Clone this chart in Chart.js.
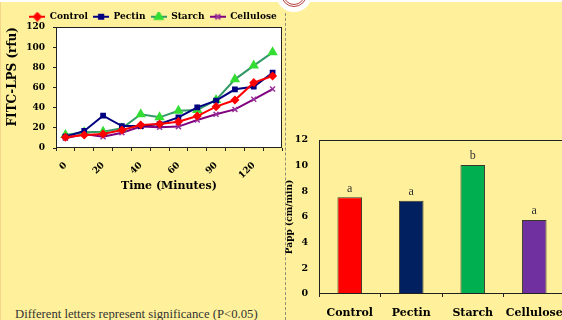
<!DOCTYPE html>
<html>
<head>
<meta charset="utf-8">
<script src="https://cdn.jsdelivr.net/npm/chart.js@4.4.0/dist/chart.umd.min.js"></script>
<style>
html,body{margin:0;padding:0;}
body{width:562px;height:320px;overflow:hidden;background:#FFF19B;position:relative;}
#leftedge{position:absolute;left:0;top:0;width:1px;height:320px;background:#F3D58C;}
#topstrip{position:absolute;left:0;top:0;width:562px;height:2px;background:#fff;}
#c1{position:absolute;left:0;top:0;}
#c2{position:absolute;left:280px;top:120px;}
#dash{position:absolute;left:285px;top:13px;width:0;height:307px;border-left:1px dashed #8f8c78;}
#halo{position:absolute;left:276px;top:-24px;width:36px;height:36px;border-radius:50%;background:#fff;}
#ring{position:absolute;left:281px;top:-19px;width:20px;height:20px;border-radius:50%;border:3px double #B5433F;}
#note{position:absolute;left:15px;top:307px;font:12.7px "Liberation Serif",serif;color:#333;white-space:nowrap;}
</style>
</head>
<body>
<div id="leftedge"></div>
<div id="topstrip"></div>
<canvas id="c1" width="306" height="200"></canvas>
<canvas id="c2" width="285" height="200"></canvas>
<div id="dash"></div>
<div id="halo"></div>
<div id="ring"></div>
<div id="note">Different letters represent significance (P&lt;0.05)</div>
<script>
// ---- data ----
const timeLabels = ['0','10','20','30','40','50','60','75','90','105','120','135'];
const controlValues   = [10.6,12.9,13.9,17.9,22.8,23.8,26.1,31.7,41.0,47.6,64.8,71.4];
const pectinValues    = [11.2,16.9,32.0,21.8,21.8,23.8,30.4,40.3,46.9,58.2,60.8,74.7];
const starchValues    = [12.9,15.5,16.2,19.5,33.4,30.4,37.0,37.7,47.6,68.1,81.7,94.9];
const celluloseValues = [9.6,13.9,11.2,15.2,21.2,20.5,21.2,27.8,33.4,38.3,48.3,58.5];
const lineYTicks = [0,20,40,60,80,100,120];

const groups = ['Control','Pectin','Starch','Cellulose'];
const pappValues = [7.53,7.27,10.05,5.77];
const sigLetters = ['a','a','b','a'];
const barYTicks = [0,2,4,6,8,10,12];

const SERIF = '"DejaVu Serif", serif';
Chart.defaults.font.family = SERIF;
Chart.defaults.color = '#000';

const seriesStyle = [
  {line:'#FF0000', fill:'#FF0000', shape:'rectRot', r:3.5},
  {line:'#000080', fill:'#000080', shape:'rect', r:3},
  {line:'#339966', fill:'#33DD33', shape:'triangle', r:4.5},
  {line:'#800080', fill:'#993399', shape:'crossRot', r:3.5}
];

function legendIcon(st){
  const cv = document.createElement('canvas');
  cv.width = 16; cv.height = 10;
  const ctx = cv.getContext('2d');
  ctx.strokeStyle = st.line; ctx.lineWidth = 2;
  ctx.beginPath(); ctx.moveTo(0,5); ctx.lineTo(16,5); ctx.stroke();
  ctx.fillStyle = st.fill; ctx.strokeStyle = st.fill;
  Chart.helpers.drawPoint(ctx, {pointStyle: st.shape, radius: st.r, rotation:0, borderWidth:1.5}, 8, 5);
  return cv;
}

const seriesNames = ['Control','Pectin','Starch','Cellulose'];
const seriesData = [controlValues, pectinValues, starchValues, celluloseValues];

const frame1 = {
  id:'frame1',
  beforeDraw(chart){
    const {ctx, chartArea:a} = chart;
    ctx.save(); ctx.fillStyle = '#fff';
    ctx.fillRect(a.left, a.top, a.right - a.left, a.bottom - a.top);
    ctx.restore();
  },
  afterDraw(chart){
    const {ctx, chartArea:a} = chart;
    ctx.save(); ctx.strokeStyle = '#222'; ctx.lineWidth = 1;
    ctx.strokeRect(Math.round(a.left)+0.5, Math.round(a.top)+0.5, Math.round(a.right - a.left)-1, Math.round(a.bottom - a.top)-1);
    ctx.restore();
  }
};

new Chart(document.getElementById('c1'), {
  type:'line',
  data:{
    labels: timeLabels,
    datasets: seriesNames.map((n,i)=>({
      label:n, data:seriesData[i],
      borderColor:seriesStyle[i].line, backgroundColor:seriesStyle[i].fill,
      pointBackgroundColor:seriesStyle[i].fill, pointBorderColor:seriesStyle[i].fill,
      pointStyle:seriesStyle[i].shape, pointRadius:seriesStyle[i].r, pointBorderWidth:1.5,
      borderWidth:2, tension:0, fill:false, yAxisID:'y'
    }))
  },
  options:{
    responsive:false, animation:false, devicePixelRatio:1,
    layout:{padding:{left:0,right:0,top:7,bottom:7.4}},
    plugins:{
      tooltip:{enabled:false},
      legend:{
        position:'top', maxHeight:20,
        labels:{
          usePointStyle:true, pointStyleWidth:16, padding:5.25,
          font:{family:SERIF, weight:'bold', size:9}, color:'#000',
          generateLabels(chart){
            return chart.data.datasets.map((d,i)=>({
              text:d.label, datasetIndex:i, pointStyle:legendIcon(seriesStyle[i]),
              fillStyle:seriesStyle[i].fill, strokeStyle:seriesStyle[i].line, lineWidth:0, hidden:false, fontColor:'#000'
            }));
          }
        }
      }
    },
    scales:{
      x:{
        offset:true,
        grid:{display:true, drawOnChartArea:false, offset:true, tickLength:3, color:'#222'},
        border:{display:false},
        ticks:{autoSkip:false, minRotation:45, maxRotation:45, padding:9, color:'#000',
          font:{family:SERIF, weight:'bold', size:9},
          callback:(v,i)=> i%2===0 ? timeLabels[i] : ''},
        title:{display:true, text:'Time (Minutes)', color:'#000', font:{family:SERIF, weight:'bold', size:11}, padding:0},
        afterFit(s){ s.height = 44.6; }
      },
      y:{
        min:0, max:120,
        afterBuildTicks(s){ s.ticks = lineYTicks.map(v=>({value:v})); },
        grid:{display:true, drawOnChartArea:false, tickLength:3, color:'#222'},
        border:{display:false},
        ticks:{padding:8, color:'#000', font:{family:SERIF, weight:'bold', size:9}},
        title:{display:true, text:'FITC-LPS (rfu)', align:'end', color:'#000', font:{family:SERIF, weight:'bold', size:12}, padding:{top:6,bottom:0}},
        afterFit(s){ s.width = 56; }
      },
      spacer:{
        type:'linear', position:'right', display:true,
        grid:{display:false}, border:{display:false}, ticks:{display:false},
        afterFit(s){ s.width = 24; }
      }
    }
  },
  plugins:[frame1]
});

const frame2 = {
  id:'frame2',
  afterDraw(chart){
    const {ctx, chartArea:a} = chart;
    ctx.save(); ctx.strokeStyle = '#222'; ctx.lineWidth = 1;
    ctx.strokeRect(Math.round(a.left)+0.5, Math.round(a.top)+0.5, Math.round(a.right - a.left)-1, Math.round(a.bottom - a.top)-1);
    const meta = chart.getDatasetMeta(0);
    ctx.fillStyle = '#333'; ctx.font = '12px "Liberation Serif", serif';
    ctx.textAlign = 'center'; ctx.textBaseline = 'bottom';
    meta.data.forEach((el,i)=>{ ctx.fillText(sigLetters[i], el.x, el.y - 3); });
    ctx.restore();
  }
};

new Chart(document.getElementById('c2'), {
  type:'bar',
  data:{
    labels: groups,
    datasets:[{
      data: pappValues,
      backgroundColor:['#FF0000','#002060','#00B050','#7030A0'],
      borderColor:'#3a3a2a', borderWidth:1,
      categoryPercentage:1, barPercentage:0.4
    }]
  },
  options:{
    responsive:false, animation:false, devicePixelRatio:1,
    layout:{padding:{left:0,right:0,top:20,bottom:0}},
    plugins:{legend:{display:false}, tooltip:{enabled:false}},
    scales:{
      x:{
        grid:{display:true, drawOnChartArea:false, offset:true, tickLength:3, color:'#222'},
        border:{display:false},
        ticks:{padding:10, minRotation:0, maxRotation:0, autoSkip:false, color:'#000', font:{family:SERIF, weight:'bold', size:11}},
        afterFit(s){ s.height = 26; s.paddingLeft = 0; s.paddingRight = 0; }
      },
      y:{
        min:0, max:12,
        afterBuildTicks(s){ s.ticks = barYTicks.map(v=>({value:v})); },
        grid:{display:true, drawOnChartArea:false, drawTicks:false},
        border:{display:false},
        ticks:{padding:11, color:'#000', font:{family:SERIF, weight:'bold', size:9.5}},
        title:{display:true, text:'Papp (cm/min)', color:'#000', font:{family:SERIF, weight:'bold', size:9}, padding:{top:4.6,bottom:0}},
        afterFit(s){ s.width = 39; }
      }
    }
  },
  plugins:[frame2]
});
</script>
</body>
</html>
